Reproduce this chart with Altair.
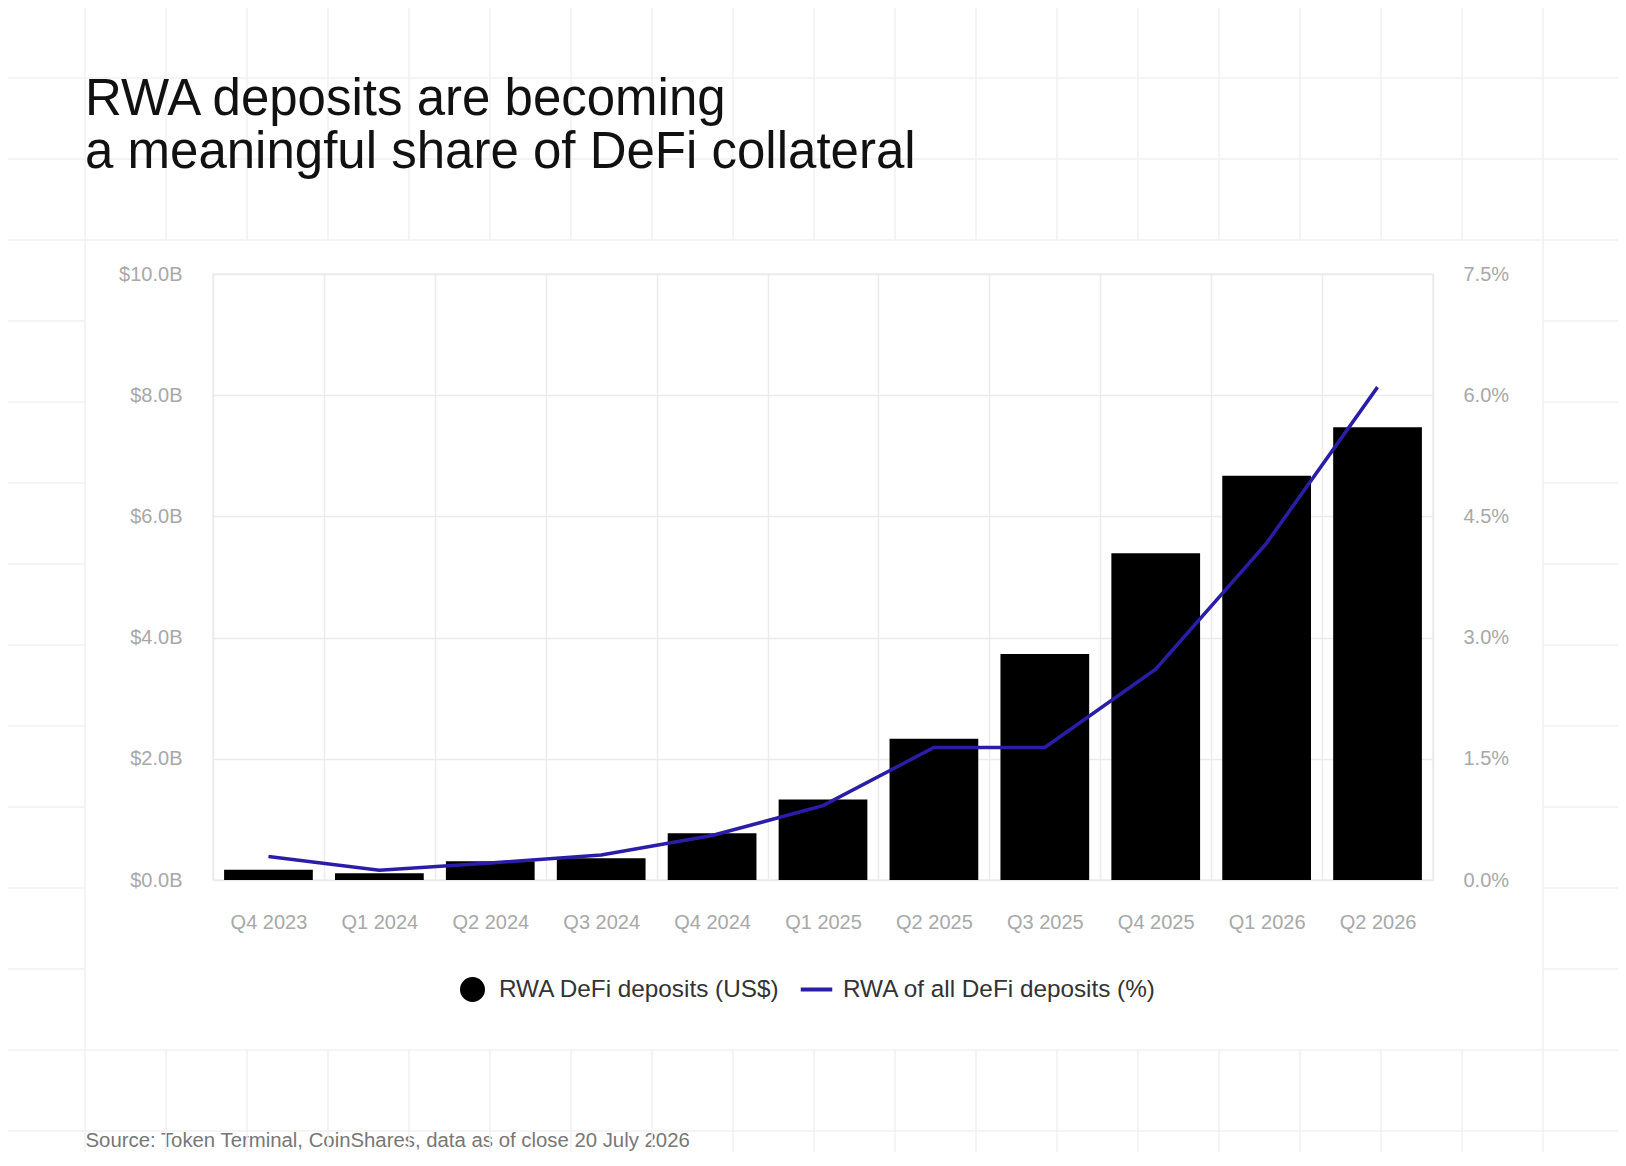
import altair as alt
import pandas as pd

quarters = ["Q4 2023", "Q1 2024", "Q2 2024", "Q3 2024", "Q4 2024", "Q1 2025",
            "Q2 2025", "Q3 2025", "Q4 2025", "Q1 2026", "Q2 2026"]
deposits_bn = [0.17, 0.11, 0.31, 0.36, 0.77, 1.33, 2.33, 3.73, 5.39, 6.67, 7.47]
share_pct = [0.29, 0.12, 0.21, 0.31, 0.55, 0.92, 1.64, 1.64, 2.61, 4.17, 6.10]
series_names = ["RWA DeFi deposits (US$)", "RWA of all DeFi deposits (%)"]
left_ticks = [0, 2, 4, 6, 8, 10]
right_ticks = [0, 1.5, 3, 4.5, 6, 7.5]
title_lines = ["RWA deposits are becoming", "a meaningful share of DeFi collateral"]
source_text = "Source: Token Terminal, CoinShares, data as of close 20 July 2026"

# decorative page grid (cell indices; the chart card spans columns 0..18, rows 0..10)
grid_cols_full = [-1, 0, 18, 19]
grid_cols_part = list(range(1, 18))
grid_rows_full = [-2, -1, 0, 10, 11]
grid_rows_part = list(range(1, 10))

df = pd.DataFrame({
    "quarter": quarters,
    "deposits": deposits_bn,
    "share": share_pct,
    "series": series_names[1],
})

segs = []
for c in grid_cols_full:
    segs.append({"a": c, "a2": c, "b": -3, "b2": 12})
for c in grid_cols_part:
    segs.append({"a": c, "a2": c, "b": -3, "b2": 0})
    segs.append({"a": c, "a2": c, "b": 10, "b2": 12})
for r in grid_rows_full:
    segs.append({"a": -1.5, "a2": 19.5, "b": r, "b2": r})
for r in grid_rows_part:
    segs.append({"a": -1.5, "a2": 0, "b": r, "b2": r})
    segs.append({"a": 18, "a2": 19.5, "b": r, "b2": r})
grid_df = pd.DataFrame(segs)

BAR = "#000000"
LINE = "#2a1ea8"
GRID = "#ebebeb"
PAGE_GRID = "#f0f0f0"
FONT = "Liberation Sans"

bg = alt.Chart(grid_df).mark_rule(color=PAGE_GRID, strokeWidth=1.5).encode(
    x=alt.X("a:Q", scale=alt.Scale(domain=[0, 18], range=[-128, 1330], nice=False, zero=False), axis=None),
    x2="a2:Q",
    y=alt.Y("b:Q", scale=alt.Scale(domain=[0, 10], range=[-34, 776], nice=False, zero=False), axis=None),
    y2="b2:Q",
)

legend = alt.Legend(
    title=None, orient="none", legendX=247, legendY=703, direction="horizontal",
    labelFontSize=24.3, labelColor="#333333", labelFont=FONT, labelLimit=0,
    labelOffset=14, columnPadding=12, symbolStrokeWidth=4, symbolOpacity=1,
    symbolSize=441,
)

x = alt.X(
    "quarter:N", sort=quarters,
    scale=alt.Scale(paddingInner=0, paddingOuter=0),
    axis=alt.Axis(
        title=source_text, labelAngle=0, grid=True, tickBand="extent", labelPadding=32,
        titleX=-128, titleY=260, titleAlign="left", titleAnchor="start",
        titleBaseline="middle", titleFontSize=20.35, titleFontWeight="normal",
        titleColor="#777777", titleFont=FONT,
    ),
)

bars = alt.Chart(df).mark_bar(color=BAR, width=alt.RelativeBandSize(0.8)).encode(
    x=x,
    y=alt.Y("deposits:Q", scale=alt.Scale(domain=[0, 10], nice=False),
            axis=alt.Axis(values=left_ticks, orient="left", title=None, grid=True,
                          labelPadding=31,
                          labelExpr="'$' + format(datum.value, '.1f') + 'B'")),
)

line = alt.Chart(df).mark_line(strokeWidth=3.5, color=LINE).encode(
    x=x,
    y=alt.Y("share:Q", scale=alt.Scale(domain=[0, 7.5], nice=False),
            axis=alt.Axis(values=right_ticks, orient="right", title=None, grid=False,
                          labelPadding=30,
                          labelExpr="format(datum.value, '.1f') + '%'")),
)

# legend-only layer (no rows drawn)
key = alt.Chart(df).transform_filter("false").mark_point(filled=True).encode(
    fill=alt.Fill("series:N", scale=alt.Scale(domain=series_names, range=[BAR, "transparent"]), legend=legend),
    stroke=alt.Stroke("series:N", scale=alt.Scale(domain=series_names, range=[BAR, LINE]), legend=legend),
    shape=alt.Shape("series:N", scale=alt.Scale(domain=series_names,
                    range=["circle", "M0,-1M0,1M-1.5,0H1.5"]), legend=legend),
)

main = alt.layer(bars, line, key).resolve_scale(y="independent")

chart = (
    alt.layer(bg, main)
    .resolve_scale(x="independent", y="independent")
    .resolve_axis(x="independent", y="independent")
    .properties(
        width=1220, height=606,
        autosize="none",
        padding={"left": 205, "top": 266, "right": 185, "bottom": 272},
        title=alt.Title(
            text=title_lines, anchor="start", frame="group", dx=-128, dy=268,
            fontSize=51, lineHeight=53, font=FONT, fontWeight="normal",
            color="#111111", offset=85,
        ),
    )
    .configure(background="white")
    .configure_view(stroke=GRID, strokeWidth=1.5)
    .configure_axis(domain=False, ticks=False, gridColor=GRID, gridWidth=1.5,
                    labelFont=FONT, labelFontSize=20, labelColor="#a8a8a8")
)

chart.save("out.html", embed_options={"renderer": "svg", "actions": False})
